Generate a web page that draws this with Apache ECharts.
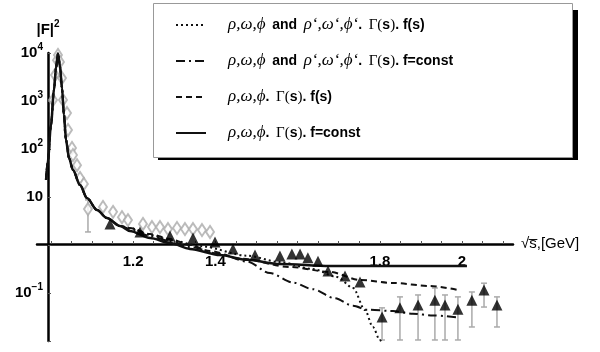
<!DOCTYPE html>
<html>
<head>
<meta charset="utf-8">
<script src="https://cdn.jsdelivr.net/npm/echarts@6/dist/echarts.min.js"></script>
<style>
  html, body { margin: 0; padding: 0; background: #fff; }
  #chart { width: 600px; height: 352px; }
</style>
</head>
<body>
<div id="chart"></div>
<script>
// resonance peak, common to all four fits
var peakS = [0.988, 0.9927, 1.0, 1.0073, 1.0122, 1.017, 1.0219, 1.0268, 1.0316, 1.0365, 1.0438, 1.0535, 1.0706, 1.0876, 1.112, 1.136, 1.168];
var peakF = [22.6, 59, 316, 1700, 4900, 9800, 5350, 1870, 510, 155, 65, 36.5, 17.8, 9.5, 5.36, 3.65, 2.49];

// tails of each fit
var dotS = [1.192, 1.241, 1.29, 1.3625, 1.477, 1.557, 1.637, 1.696, 1.735, 1.764, 1.783, 1.80, 1.813];
var dotF = [2.26, 1.62, 1.27, 0.95, 0.60, 0.44, 0.316, 0.215, 0.127, 0.044, 0.0196, 0.0105, 0.0059];

var dashDotS = [1.192, 1.241, 1.29, 1.338, 1.411, 1.477, 1.533, 1.589, 1.637, 1.69, 1.735, 1.769, 1.832, 1.88, 1.93, 1.99];
var dashDotF = [2.15, 1.54, 1.21, 0.91, 0.65, 0.45, 0.26, 0.165, 0.12, 0.078, 0.054, 0.045, 0.042, 0.037, 0.034, 0.031];

var dashS = [1.192, 1.241, 1.29, 1.338, 1.387, 1.46, 1.582, 1.679, 1.752, 1.832, 1.922, 1.99];
var dashF = [2.26, 1.69, 1.33, 1.0, 0.75, 0.52, 0.348, 0.274, 0.187, 0.162, 0.14, 0.1155];

var solidS = [1.192, 1.241, 1.29, 1.338, 1.411, 1.477, 1.557, 1.679, 1.849, 2.012];
var solidF = [1.96, 1.40, 1.10, 0.83, 0.62, 0.49, 0.40, 0.365, 0.365, 0.365];

// measured points
var diamondS = [1.0049, 1.0097, 1.0146, 1.017, 1.0219, 1.0268, 1.0292, 1.039, 1.0414, 1.0511, 1.0535, 1.0633, 1.0706, 1.080, 1.090, 1.1265, 1.151, 1.1727, 1.1873, 1.2238, 1.2457, 1.2652, 1.2847, 1.3066, 1.326, 1.3455, 1.3674, 1.3869];
var diamondF = [1050, 3470, 7100, 9100, 6500, 3000, 1050, 560, 250, 105, 75, 46, 25, 18.7, 5.6, 6.2, 4.9, 3.8, 3.3, 2.74, 2.37, 2.37, 2.15, 2.26, 2.15, 2.15, 2.05, 1.87];

var triS = [1.1436, 1.2165, 1.2895, 1.3455, 1.399, 1.4428, 1.4964, 1.557, 1.586, 1.606, 1.625, 1.6496, 1.674, 1.7153, 1.7518, 1.8054, 1.849, 1.893, 1.934, 1.9586, 1.990, 2.024, 2.0535, 2.085];
var triF = [2.74, 1.87, 1.54, 1.40, 1.155, 0.826, 0.62, 0.59, 0.65, 0.65, 0.54, 0.46, 0.288, 0.226, 0.17, 0.0316, 0.049, 0.056, 0.071, 0.056, 0.046, 0.071, 0.115, 0.056];

// error bars: position, low, high
var errS = [1.090, 1.8054, 1.849, 1.893, 1.934, 1.9586, 1.990, 2.024, 2.0535, 2.085];
var errLow = [1.87, 0.0105, 0.0105, 0.0105, 0.0105, 0.0105, 0.0105, 0.0196, 0.051, 0.0196];
var errHigh = [8.7, 0.049, 0.083, 0.091, 0.127, 0.091, 0.083, 0.105, 0.16, 0.083];

var xTickVals = [1.0, 1.05, 1.1, 1.15, 1.2, 1.25, 1.3, 1.35, 1.4, 1.45, 1.5, 1.55, 1.6, 1.65, 1.7, 1.75, 1.8, 1.85, 1.9, 1.95, 2.0, 2.05, 2.1];
var xLabelVals = [1.2, 1.4, 1.8, 2];

var seriesNames = [
  'ρ,ω,ϕ and ρ‘,ω‘,ϕ‘. Γ(s). f(s)',
  'ρ,ω,ϕ and ρ‘,ω‘,ϕ‘. Γ(s). f=const',
  'ρ,ω,ϕ. Γ(s). f(s)',
  'ρ,ω,ϕ. Γ(s). f=const'
];
var legendTexts = [
  '{gap|}{g|ρ,ω,ϕ}  {b|and}  {g|ρ‘,ω‘,ϕ‘}{b|.}  {t|Γ(}{b|s}{t|)}{b|. f(s)}',
  '{gap|}{g|ρ,ω,ϕ}  {b|and}  {g|ρ‘,ω‘,ϕ‘}{b|.}  {t|Γ(}{b|s}{t|)}{b|. f=const}',
  '{gap|}{g|ρ,ω,ϕ}{b|.}  {t|Γ(}{b|s}{t|)}{b|. f(s)}',
  '{gap|}{g|ρ,ω,ϕ}{b|.}  {t|Γ(}{b|s}{t|)}{b|. f=const}'
];

function zip(a, b) {
  var out = [];
  for (var i = 0; i < a.length; i++) out.push([a[i], b[i]]);
  return out;
}
function curve(s, f) {
  return zip(peakS, peakF).concat(zip(s, f));
}

var errData = [];
for (var i = 0; i < errS.length; i++) errData.push([errS[i], errLow[i], errHigh[i]]);

var font = 'Liberation Sans, Arial, sans-serif';
var lineColor = '#111';

function lineSeries(name, data, type, width) {
  return {
    name: name,
    type: 'line',
    data: data,
    symbol: 'none',
    smooth: 0.3,
    smoothMonotone: 'x',
    z: 3,
    lineStyle: { color: lineColor, width: width, type: type },
    itemStyle: { color: lineColor }
  };
}

var myChart = echarts.init(document.getElementById('chart'), null, { renderer: 'canvas' });

var option = {
  animation: false,
  backgroundColor: '#fff',
  grid: { left: 37, right: 87, top: 53, bottom: 11 },
  graphic: [
    { type: 'rect', z: 0, shape: { x: 572, y: 10, width: 6, height: 150 }, style: { fill: '#000' } },
    { type: 'rect', z: 0, shape: { x: 158, y: 157, width: 420, height: 3 }, style: { fill: '#000' } },
    { type: 'rect', z: 1, shape: { x: 153.5, y: 3.5, width: 419, height: 154 }, style: { fill: '#fff', stroke: '#999', lineWidth: 1 } }
  ],
  legend: {
    data: seriesNames,
    orient: 'vertical',
    left: 175,
    top: 16,
    padding: 0,
    itemWidth: 30,
    itemHeight: 14,
    itemGap: 18,
    z: 10,
    selectedMode: false,
    itemStyle: { opacity: 0 },
    formatter: function (name) {
      return legendTexts[seriesNames.indexOf(name)];
    },
    textStyle: {
      color: '#000',
      lineHeight: 18,
      rich: {
        gap: { width: 17 },
        g: { fontFamily: 'Liberation Serif, DejaVu Serif, serif', fontStyle: 'italic', fontSize: 17, color: '#000' },
        b: { fontFamily: font, fontWeight: 'bold', fontSize: 14, color: '#000' },
        t: { fontFamily: 'Liberation Serif, DejaVu Serif, serif', fontSize: 15, color: '#000' }
      }
    }
  },
  xAxis: {
    type: 'value',
    min: 0.966,
    max: 2.124,
    position: 'bottom',
    offset: -97,
    name: '\u221As\u0305,[GeV]',
    nameLocation: 'end',
    nameGap: 8,
    nameTextStyle: {
      color: '#000',
      fontFamily: font,
      fontSize: 15
    },
    splitLine: { show: false },
    axisLine: { onZero: false, lineStyle: { color: '#000', width: 2.5 } },
    axisTick: { inside: true, length: 3, customValues: xTickVals, lineStyle: { color: '#555', width: 1 } },
    axisLabel: {
      customValues: xLabelVals,
      margin: 10,
      color: '#000',
      fontFamily: font,
      fontWeight: 'bold',
      fontSize: 15,
      formatter: function (v) { return v === 2 ? '2' : v.toFixed(1); }
    }
  },
  yAxis: {
    type: 'log',
    logBase: 10,
    min: 0.01,
    max: 10000,
    splitNumber: 6,
    position: 'left',
    offset: -11,
    name: '|F|{sup|2}',
    nameLocation: 'end',
    nameGap: 12,
    nameTextStyle: {
      color: '#000',
      fontFamily: font,
      fontWeight: 'bold',
      fontSize: 15,
      lineHeight: 22,
      align: 'center',
      rich: { sup: { fontSize: 10, fontWeight: 'bold', fontFamily: font, verticalAlign: 'top', lineHeight: 10 } }
    },
    splitLine: { show: false },
    minorTick: { show: false },
    axisLine: { onZero: false, lineStyle: { color: '#000', width: 2.5 } },
    axisTick: { inside: true, length: 3, lineStyle: { color: '#555', width: 1 } },
    axisLabel: {
      margin: 5,
      color: '#000',
      fontFamily: font,
      fontWeight: 'bold',
      fontSize: 15,
      lineHeight: 22,
      formatter: function (v) {
        var e = Math.round(Math.log10(v));
        if (e >= 2) return '10{sup|' + e + '}';
        if (e === 1) return '10';
        if (e === -1) return '10{sup|\u22121}';
        return '';
      },
      rich: { sup: { fontSize: 10, fontWeight: 'bold', fontFamily: font, color: '#000', verticalAlign: 'top', lineHeight: 10 } }
    }
  },
  series: [
    lineSeries(seriesNames[0], curve(dotS, dotF), [2, 3], 2),
    lineSeries(seriesNames[1], curve(dashDotS, dashDotF), [9, 4, 2, 4], 2),
    lineSeries(seriesNames[2], curve(dashS, dashF), [6, 4], 2),
    lineSeries(seriesNames[3], curve(solidS, solidF), 'solid', 2.5),
    {
      name: 'errors',
      type: 'custom',
      clip: true,
      z: 2,
      data: errData,
      encode: { x: 0, y: [1, 2] },
      renderItem: function (params, api) {
        var lo = api.coord([api.value(0), api.value(1)]);
        var hi = api.coord([api.value(0), api.value(2)]);
        var st = { stroke: '#aaa', lineWidth: 1.5 };
        return {
          type: 'group',
          children: [
            { type: 'line', shape: { x1: lo[0], y1: lo[1], x2: hi[0], y2: hi[1] }, style: st },
            { type: 'line', shape: { x1: lo[0] - 3, y1: lo[1], x2: lo[0] + 3, y2: lo[1] }, style: st },
            { type: 'line', shape: { x1: hi[0] - 3, y1: hi[1], x2: hi[0] + 3, y2: hi[1] }, style: st }
          ]
        };
      }
    },
    {
      name: 'diamonds',
      type: 'scatter',
      z: 2,
      data: zip(diamondS, diamondF),
      symbol: 'emptyDiamond',
      symbolSize: [8, 12],
      itemStyle: { color: '#aaa', borderWidth: 1 }
    },
    {
      name: 'triangles',
      type: 'scatter',
      z: 4,
      data: zip(triS, triF),
      symbol: 'triangle',
      symbolSize: [11, 11],
      itemStyle: { color: '#000' }
    }
  ]
};

myChart.setOption(option);
</script>
</body>
</html>
